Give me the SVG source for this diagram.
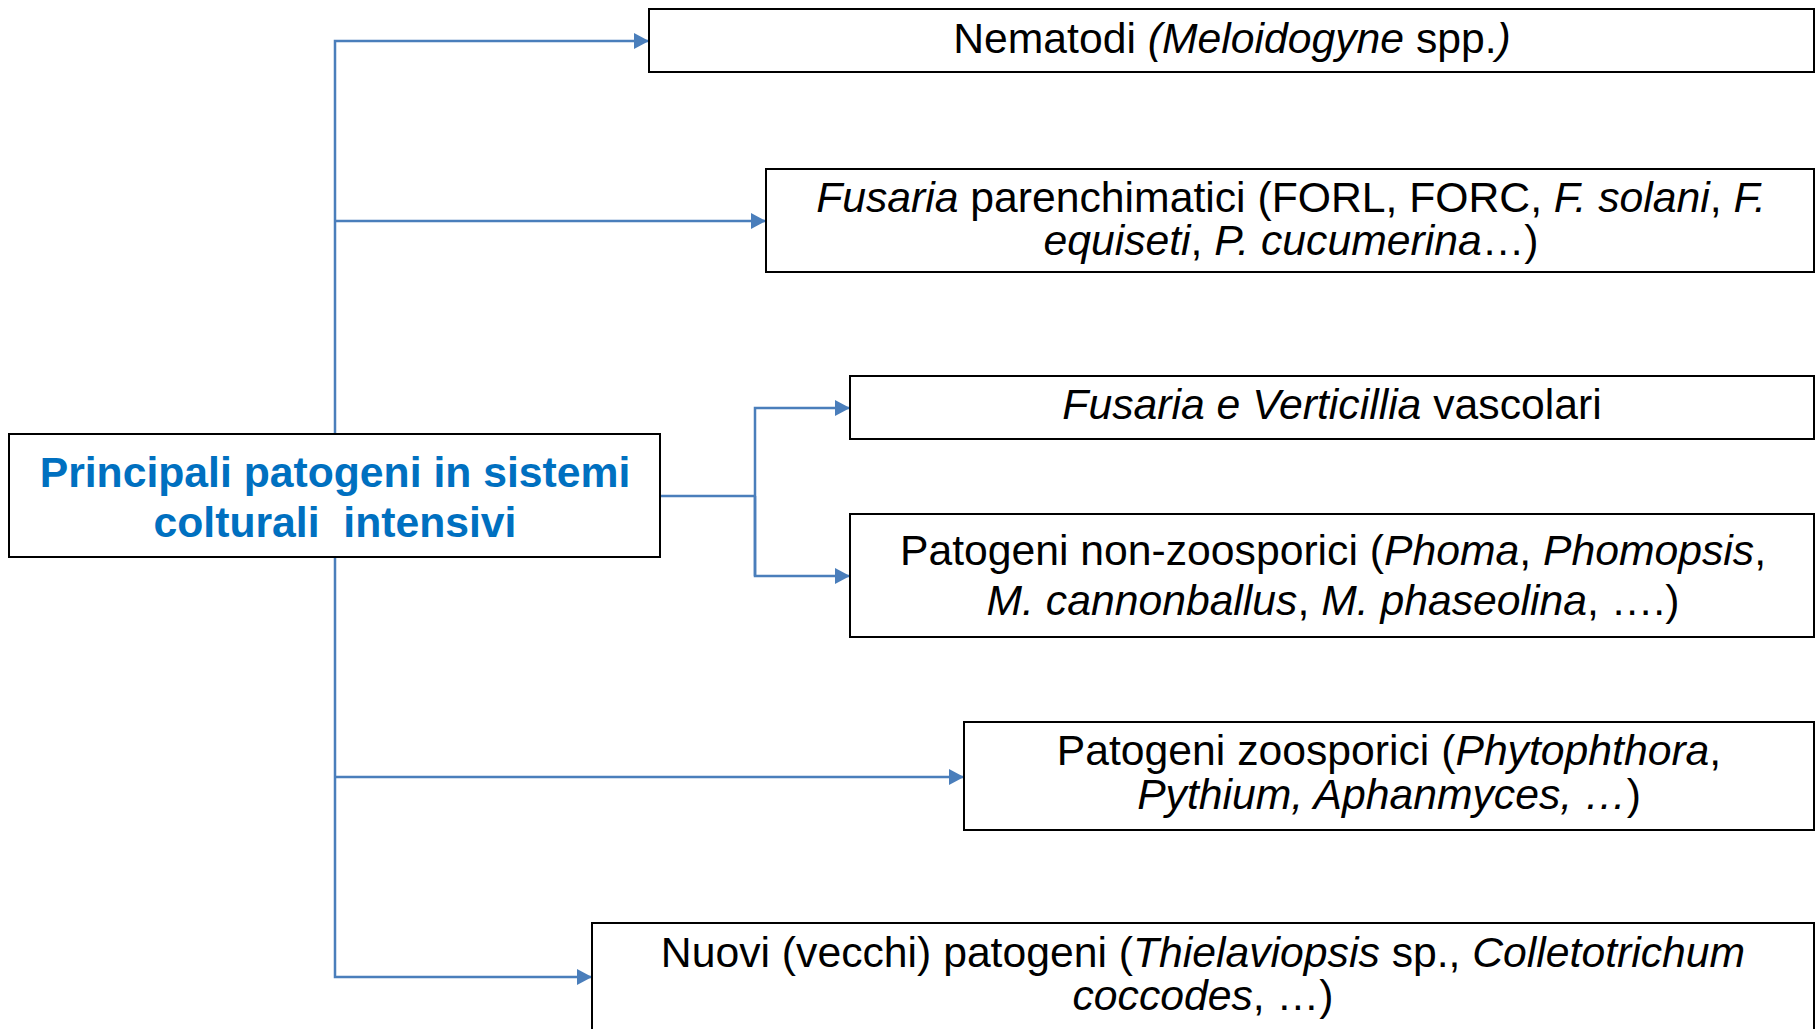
<svg xmlns="http://www.w3.org/2000/svg" width="1820" height="1029" viewBox="0 0 1820 1029">
<defs>
<marker id="arr" viewBox="0 0 15 16" refX="15" refY="8" markerWidth="15" markerHeight="16" markerUnits="userSpaceOnUse" orient="auto">
<path d="M0,0 L15,8 L0,16 Z" fill="#4A7EBB"/>
</marker>
<style>
.box{fill:#fff;stroke:#000;stroke-width:2}
.t{font-family:"Liberation Sans",Arial,sans-serif;font-size:42.7px;fill:#000;text-anchor:middle}
.c{font-family:"Liberation Sans",Arial,sans-serif;font-size:42.7px;font-weight:bold;fill:#0070C0;text-anchor:middle}
.i{font-style:italic}
.ln{fill:none;stroke:#4A7EBB;stroke-width:2.5}
</style>
</defs>
<rect width="1820" height="1029" fill="#fff"/>
<g id="connectors">
<path class="ln" d="M335,434 V41 H649" marker-end="url(#arr)"/>
<path class="ln" d="M335,221 H766" marker-end="url(#arr)"/>
<path class="ln" d="M335,557 V977 H592" marker-end="url(#arr)"/>
<path class="ln" d="M335,777 H964" marker-end="url(#arr)"/>
<path class="ln" d="M660,496 H755"/>
<path class="ln" d="M755,576 V408 H850" marker-end="url(#arr)"/>
<path class="ln" d="M755,496 V576 H850" marker-end="url(#arr)"/>
</g>
<g id="center">
<rect class="box" x="9" y="434" width="651" height="123"/>
<text class="c" x="335" y="487">Principali patogeni in sistemi</text>
<text class="c" x="335" y="537" xml:space="preserve">colturali  intensivi</text>
</g>
<g id="nematodi">
<rect class="box" x="649" y="9" width="1165" height="63"/>
<text class="t" x="1232" y="53">Nematodi <tspan class="i">(Meloidogyne</tspan> spp.<tspan class="i">)</tspan></text>
</g>
<g id="fusaria-parenchimatici">
<rect class="box" x="766" y="169" width="1048" height="103"/>
<text class="t" x="1291" y="212"><tspan class="i">Fusaria</tspan> parenchimatici (FORL, FORC, <tspan class="i">F. solani</tspan>, <tspan class="i">F.</tspan></text>
<text class="t" x="1291" y="255"><tspan class="i">equiseti</tspan>, <tspan class="i">P. cucumerina</tspan>…)</text>
</g>
<g id="fusaria-verticillia">
<rect class="box" x="850" y="376" width="964" height="63"/>
<text class="t" x="1332" y="419"><tspan class="i">Fusaria e Verticillia</tspan> vascolari</text>
</g>
<g id="non-zoosporici">
<rect class="box" x="850" y="514" width="964" height="123"/>
<text class="t" x="1333" y="565">Patogeni non-zoosporici (<tspan class="i">Phoma</tspan>, <tspan class="i">Phomopsis</tspan>,</text>
<text class="t" x="1333" y="615"><tspan class="i">M. cannonballus</tspan>, <tspan class="i">M. phaseolina</tspan>, ….)</text>
</g>
<g id="zoosporici">
<rect class="box" x="964" y="722" width="850" height="108"/>
<text class="t" x="1389" y="765">Patogeni zoosporici (<tspan class="i">Phytophthora</tspan>,</text>
<text class="t" x="1389" y="809"><tspan class="i">Pythium, Aphanmyces, …</tspan>)</text>
</g>
<g id="nuovi">
<rect class="box" x="592" y="923" width="1222" height="120"/>
<text class="t" x="1203" y="967">Nuovi (vecchi) patogeni (<tspan class="i">Thielaviopsis</tspan> sp., <tspan class="i">Colletotrichum</tspan></text>
<text class="t" x="1203" y="1010"><tspan class="i">coccodes</tspan>, …)</text>
</g>
</svg>
